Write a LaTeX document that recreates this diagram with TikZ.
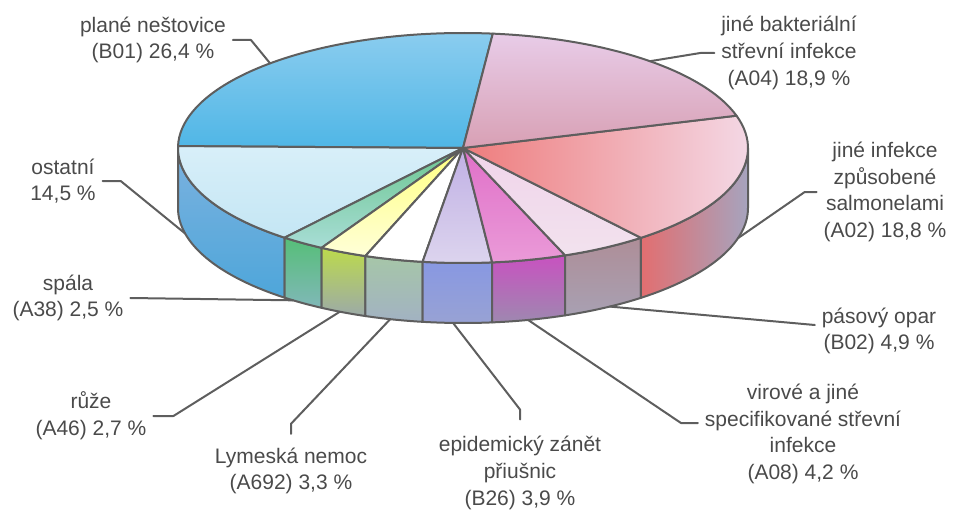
\documentclass[tikz,border=0pt]{standalone}
\usepackage{fontspec}
\setmainfont{Liberation Sans}
\usetikzlibrary{calc}

\definecolor{edgegray}{HTML}{5E5E5E}
\definecolor{textgray}{HTML}{4A4A4A}

\tikzset{
  tag/.style={align=center, text=textgray, inner sep=3pt,
    font=\fontsize{10.5}{13.3}\selectfont},
  leader/.style={draw=edgegray, line width=1pt},
  % top faces
  topB01/.style={top color={rgb,255:red,140;green,205;blue,239}, bottom color={rgb,255:red,79;green,182;blue,230}},
  topOst/.style={top color={rgb,255:red,216;green,239;blue,249}, bottom color={rgb,255:red,196;green,230;blue,244}},
  topA38/.style={top color={rgb,255:red,108;green,198;blue,144}, bottom color={rgb,255:red,168;green,221;blue,214}},
  topA46/.style={top color={rgb,255:red,255;green,255;blue,128}, bottom color={rgb,255:red,255;green,255;blue,216}},
  topA692/.style={fill=white},
  topB26/.style={top color={rgb,255:red,192;green,176;blue,228}, bottom color={rgb,255:red,220;green,212;blue,238}},
  topA08/.style={top color={rgb,255:red,224;green,112;blue,200}, bottom color={rgb,255:red,234;green,154;blue,216}},
  topB02/.style={top color={rgb,255:red,240;green,212;blue,234}, bottom color={rgb,255:red,242;green,226;blue,238}},
  topA02/.style={left color={rgb,255:red,238;green,124;blue,124}, right color={rgb,255:red,244;green,222;blue,236}},
  topA04/.style={bottom color={rgb,255:red,216;green,160;blue,180}, top color={rgb,255:red,232;green,204;blue,232}},
  % side faces
  sideOst/.style={top color={rgb,255:red,124;green,178;blue,223}, bottom color={rgb,255:red,78;green,166;blue,218}},
  sideA38/.style={top color={rgb,255:red,86;green,190;blue,120}, bottom color={rgb,255:red,128;green,184;blue,184}},
  sideA46/.style={top color={rgb,255:red,188;green,218;blue,76}, bottom color={rgb,255:red,156;green,170;blue,168}},
  sideA692/.style={top color={rgb,255:red,166;green,198;blue,168}, bottom color={rgb,255:red,162;green,178;blue,194}},
  sideB26/.style={top color={rgb,255:red,136;green,152;blue,226}, bottom color={rgb,255:red,152;green,162;blue,212}},
  sideA08/.style={top color={rgb,255:red,200;green,82;blue,192}, bottom color={rgb,255:red,158;green,136;blue,176}},
  sideB02/.style={top color={rgb,255:red,174;green,142;blue,152}, bottom color={rgb,255:red,168;green,160;blue,178}},
  sideA02/.style={left color={rgb,255:red,226;green,110;blue,112}, right color={rgb,255:red,166;green,164;blue,190}},
}

\begin{document}
\begin{tikzpicture}[x=0.5pt, y=0.5pt, line width=1pt, line join=round, line cap=round]
  \useasboundingbox (0,0) rectangle (954,510);
  \coordinate (C) at (463,362);

  % sides
  \foreach \a/\b/\look in {180/231.24/sideOst, 231.24/240.24/sideA38, 240.24/249.96/sideA46,
      249.96/261.84/sideA692, 261.84/275.88/sideB26, 275.88/291/sideA08,
      291/308.64/sideB02, 308.64/360/sideA02}
    \draw[edgegray, \look] ($(C)+(\a:285 and 115)$)
      arc[start angle=\a, end angle=\b, x radius=285, y radius=115] -- ++(0,-60)
      arc[start angle=\b, end angle=\a, x radius=285, y radius=115] -- cycle;

  % top
  \foreach \a/\b/\look in {84/179.04/topB01, 179.04/231.24/topOst, 231.24/240.24/topA38,
      240.24/249.96/topA46, 249.96/261.84/topA692, 261.84/275.88/topB26,
      275.88/291/topA08, 291/308.64/topB02, 308.64/376.32/topA02, 376.32/444/topA04}
    \draw[edgegray, \look] (C) -- ($(C)+(\a:285 and 115)$)
      arc[start angle=\a, end angle=\b, x radius=285, y radius=115] -- cycle;

  % leader ends
  \coordinate (pB01) at ($(C)+(132.6:285 and 115)$);
  \coordinate (pA04) at ($(C)+(49:285 and 115)$);
  \coordinate (pOst) at ($(C)+(0,-60)+(192.8:285 and 115)$);
  \coordinate (pA38) at ($(C)+(0,-60)+(233.4:285 and 115)$);
  \coordinate (pA46) at ($(C)+(0,-60)+(244.4:285 and 115)$);
  \coordinate (pA692) at ($(C)+(0,-60)+(255.2:285 and 115)$);
  \coordinate (pB26) at ($(C)+(0,-60)+(268:285 and 115)$);
  \coordinate (pA08) at ($(C)+(0,-60)+(283.2:285 and 115)$);
  \coordinate (pB02) at ($(C)+(0,-60)+(301:285 and 115)$);
  \coordinate (pA02) at ($(C)+(0,-60)+(344.8:285 and 115)$);

  % labels
  \node[tag] (lB01) at (153,470) {plané neštovice\\(B01) 26,4 \%};
  \node[tag] (lOst) at (63,329) {ostatní\\14,5 \%};
  \node[tag] (lA38) at (68,212) {spála\\(A38) 2,5 \%};
  \node[tag] (lA46) at (91,94) {růže\\(A46) 2,7 \%};
  \node[tag] (lA692) at (291,39) {Lymeská nemoc\\(A692) 3,3 \%};
  \node[tag] (lB26) at (520,37) {epidemický zánět\\přiušnic\\(B26) 3,9 \%};
  \node[tag] (lA08) at (803,76) {virové a jiné\\specifikované střevní\\infekce\\(A08) 4,2 \%};
  \node[tag] (lB02) at (879,179) {pásový opar\\(B02) 4,9 \%};
  \node[tag] (lA02) at (885,318) {jiné infekce\\způsobené\\salmonelami\\(A02) 18,8 \%};
  \node[tag] (lA04) at (789,457) {jiné bakteriální\\střevní infekce\\(A04) 18,9 \%};

  \draw[leader] (lB01.east) -- ++(18,0) -- (pB01);
  \draw[leader] (lOst.east) -- ++(18,0) -- (pOst);
  \draw[leader] (lA38.east) -- (pA38);
  \draw[leader] (lA46.east) -- ++(20,0) -- (pA46);
  \draw[leader] ([yshift=3.5pt]lA692.north) -- ++(0,10) -- (pA692);
  \draw[leader] ([yshift=5pt]lB26.north) -- ++(0,10) -- (pB26);
  \draw[leader] ([yshift=5.5pt]lA08.west) -- ++(-17,0) -- (pA08);
  \draw[leader] ([yshift=3pt]lB02.west) -- (pB02);
  \draw[leader] (lA02.west) -- ++(-12,0) -- (pA02);
  \draw[leader] (lA04.west) -- ++(-14,0) -- (pA04);
\end{tikzpicture}
\end{document}
